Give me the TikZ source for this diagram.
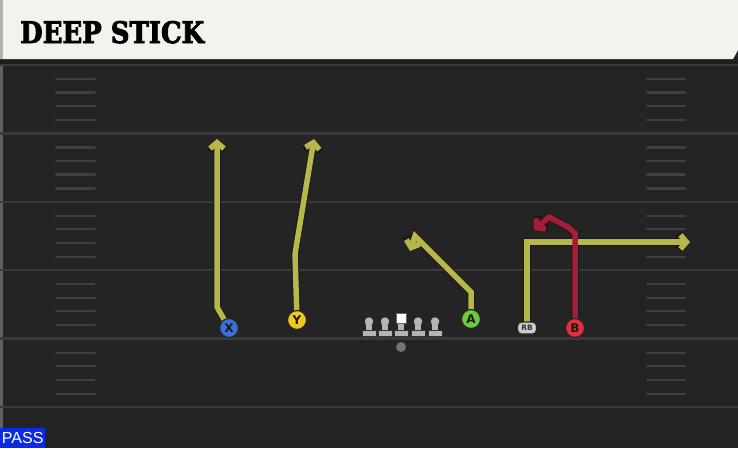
\documentclass[tikz,border=0pt]{standalone}
\usepackage{fontspec}
\setmainfont{DejaVu Sans}
\newfontfamily\titlefont{DejaVu Serif}[BoldFeatures={FakeBold=3}]
\newfontfamily\passfont{Liberation Sans}
\usetikzlibrary{arrows.meta}
\definecolor{fieldbg}{HTML}{242424}
\definecolor{fieldline}{HTML}{3A3A3A}
\definecolor{hashc}{HTML}{404040}
\definecolor{titlebg}{HTML}{F4F2EC}
\definecolor{routey}{HTML}{B8B74A}
\definecolor{router}{HTML}{A51D36}
\definecolor{xblue}{HTML}{3C70D8}
\definecolor{yyellow}{HTML}{F2C81E}
\definecolor{agreen}{HTML}{6CCB3A}
\definecolor{bred}{HTML}{E0303F}
\definecolor{passblue}{HTML}{0A2AE6}
\definecolor{olgray}{HTML}{B4B4B4}
\pgfdeclarelayer{field}
\pgfdeclarelayer{routes}
\pgfsetlayers{field,routes,main}
\tikzset{
  player/.style={circle, draw=black!85, line width=1.2pt, minimum size=19pt, inner sep=0pt,
    font=\fontsize{12}{12}\selectfont\bfseries, text=black!90},
  routeout/.style={line width=7.5pt, draw=black!90, -{Straight Barb[length=7pt,width=16pt]}},
  routeyel/.style={line width=5.5pt, draw=routey, -{Straight Barb[length=6pt,width=14pt]}},
  routered/.style={line width=5.5pt, draw=router, -{Straight Barb[length=6pt,width=14pt]}},
  fline/.style={line width=2.4pt, draw=fieldline},
  hash/.style={line width=2.2pt, draw=hashc, line cap=round},
  olhead/.style={circle, fill=olgray, inner sep=0pt, minimum size=8.5pt},
}
\begin{document}
\begin{tikzpicture}[x=1pt,y=-1pt]
\useasboundingbox (0,0) rectangle (738,448);
\begin{pgfonlayer}{field}
  \fill[fieldbg] (0,0) rectangle (738,448);
  \fill[fieldline!80] (0,59) rectangle (3,448);
  \foreach \s in {65,133.4,201.8,270.2,338.6,407} {
    \draw[fline] (0,\s) -- (738,\s);
  }
  \foreach \s in {65,133.4,201.8,270.2,338.6} {
    \foreach \o in {14,27.5,41,55} {
      \draw[hash] (56,\s+\o) -- (95,\s+\o);
      \draw[hash] (647,\s+\o) -- (685,\s+\o);
    }
  }
  % title bar
  \fill[black!88] (0,59) rectangle (738,64);
  \fill[titlebg] (0,0) -- (738,0) -- (738,50) -- (733,59) -- (0,59) -- cycle;
  \fill[black!30] (0,0) rectangle (3,59);
\end{pgfonlayer}

\node[anchor=base west, inner sep=0pt] (title) at (20,43)
  {\resizebox{184pt}{22pt}{\titlefont\bfseries DEEP STICK}};

\node[fill=passblue, anchor=south west, minimum width=45pt, minimum height=20pt, inner sep=0pt,
  text=white, font=\passfont\fontsize{16}{16}\selectfont] (pass) at (0,448) {PASS};

% players
\node[player, fill=xblue] (X) at (229,328) {X};
\node[player, fill=yyellow] (Y) at (297,320) {Y};
\node[player, fill=agreen] (A) at (471,319) {A};
\node[player, fill=bred] (B) at (575,328) {B};
\node[draw=black!85, fill=black!20, rounded corners=4pt, minimum width=19pt, minimum height=12pt,
  inner sep=0pt, line width=1.2pt, font=\fontsize{7.5}{7.5}\selectfont\bfseries, text=black!80] (RB) at (527,328) {RB};

% offensive line
\foreach \n/\x in {l1/369,l2/385,r1/418,r2/435} {
  \node[olhead] (\n) at (\x,321.5) {};
  \fill[olgray] (\x-2.8,321) rectangle (\x+2.8,332);
  \fill[olgray, draw=black!80, line width=0.7pt] (\x-7,330) rectangle (\x+7,336.5);
}
\fill[olgray] (398.2,320) rectangle (403.8,332);
\fill[olgray, draw=black!80, line width=0.7pt] (394,330) rectangle (408,336.5);
\node[fill=white, draw=black!60, line width=0.6pt, minimum size=10pt, inner sep=0pt] (C) at (401,318.5) {};
\node[circle, fill=black!55, minimum size=10pt, inner sep=0pt] (ball) at (401,347) {};

% route waypoints
\coordinate (x1) at (217,307); \coordinate (x2) at (217,139);
\coordinate (y1) at (295,254); \coordinate (y2) at (314,139);
\coordinate (a1) at (471,292); \coordinate (a2) at (415,236); \coordinate (a3) at (410,251);
\coordinate (rb1) at (527,242); \coordinate (rb2) at (690,242);
\coordinate (b1) at (575,233); \coordinate (b2) at (568,227); \coordinate (b3) at (549,217); \coordinate (b4) at (534,230);

\begin{pgfonlayer}{routes}
  \draw[routeout] (X.center) -- (x1) -- (x2);
  \draw[routeout] (Y.center) -- (y1) -- (y2);
  \draw[routeout] (A.center) -- (a1) -- (a2) -- (a3);
  \draw[routeout] (RB.center) -- (rb1) -- (rb2);
  \draw[routeyel] (X.center) -- (x1) -- (x2);
  \draw[routeyel] (Y.center) -- (y1) -- (y2);
  \draw[routeyel] (A.center) -- (a1) -- (a2) -- (a3);
  \draw[routeout] (B.center) -- (b1) -- (b2) -- (b3) -- (b4);
  \draw[routeyel] (RB.center) -- (rb1) -- (rb2);
  \draw[routered] (B.center) -- (b1) -- (b2) -- (b3) -- (b4);
\end{pgfonlayer}
\end{tikzpicture}
\end{document}
